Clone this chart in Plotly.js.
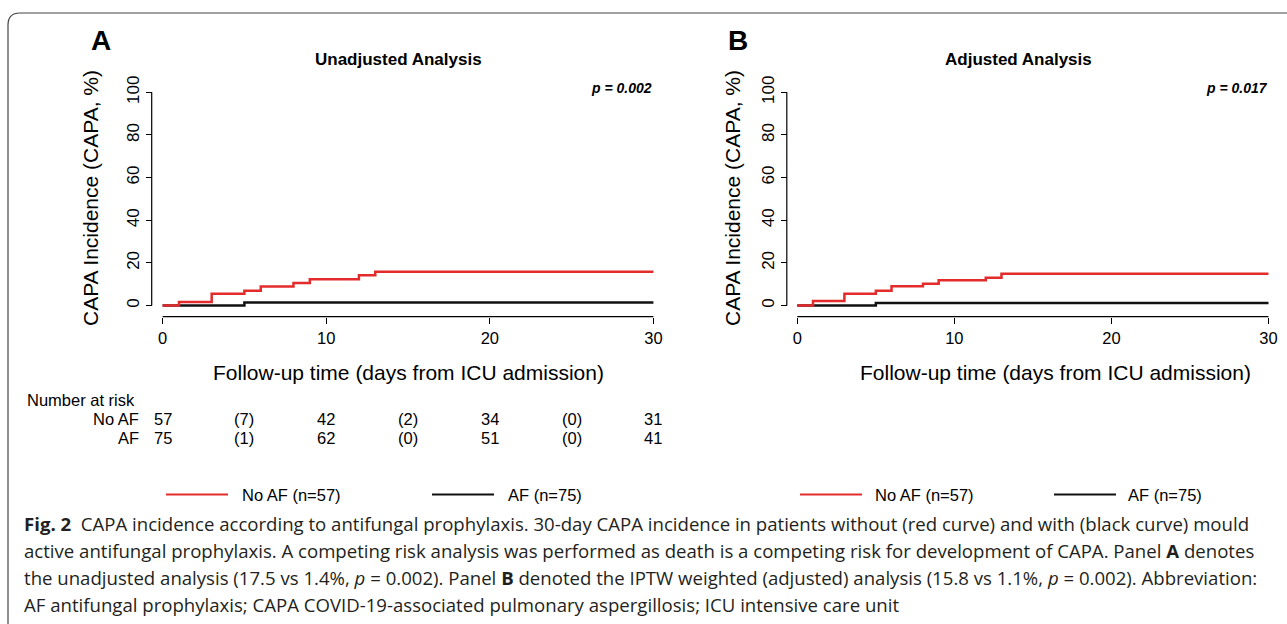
<!DOCTYPE html>
<html>
<head>
<meta charset="utf-8">
<script src="https://cdn.plot.ly/plotly-3.0.1.min.js"></script>
<style>html,body{margin:0;padding:0;background:#fff;}#chart{width:1287px;height:624px;}</style>
</head>
<body>
<div id="chart"></div>
<script>
// ---------- data ----------
const days_noaf = [0, 1, 3, 5, 6, 8, 9, 12, 13, 30];
const unadj_noaf = [0, 1.7, 5.6, 7.0, 8.9, 10.6, 12.4, 14.2, 15.9, 15.9];
const days_af = [0, 5, 30];
const unadj_af = [0, 1.4, 1.4];
const adj_noaf = [0, 2.2, 5.5, 7.0, 9.1, 10.3, 11.9, 13.1, 14.9, 14.9];
const adj_af = [0, 1.2, 1.2];

const risk_times = [0, 5, 10, 15, 20, 25, 30];
const risk_noaf = ['57', '(7)', '42', '(2)', '34', '(0)', '31'];
const risk_af = ['75', '(1)', '62', '(0)', '51', '(0)', '41'];

const xTicks = [0, 10, 20, 30];
const yTicks = [0, 20, 40, 60, 80, 100];

const panelTitles = ['Unadjusted Analysis', 'Adjusted Analysis'];
const panelLetters = ['A', 'B'];
const pValues = ['p = 0.002', 'p = 0.017'];
const seriesNames = ['No AF (n=57)', 'AF (n=75)'];
const yTitle = 'CAPA Incidence (CAPA, %)';
const xTitle = 'Follow-up time (days from ICU admission)';

const captionLines = [
  '<b>Fig. 2</b>  CAPA incidence according to antifungal prophylaxis. 30-day CAPA incidence in patients without (red curve) and with (black curve) mould',
  'active antifungal prophylaxis. A competing risk analysis was performed as death is a competing risk for development of CAPA. Panel <b>A</b> denotes',
  'the unadjusted analysis (17.5 vs 1.4%, <i>p</i> = 0.002). Panel <b>B</b> denoted the IPTW weighted (adjusted) analysis (15.8 vs 1.1%, <i>p</i> = 0.002). Abbreviation:',
  'AF antifungal prophylaxis; CAPA COVID-19-associated pulmonary aspergillosis; ICU intensive care unit'
];

// ---------- geometry helpers ----------
const W = 1287, H = 624;
const X = px => px / W;
const Y = py => 1 - py / H;
const RED = '#e32b2b', BLACK = '#111111';
const FONT = 'Liberation Sans, Arial, sans-serif';

function xDomain(d0, d30) { const s = (d30 - d0) / 30; return [X(d0 - 0.5 * s), X(d30 + 0.5 * s)]; }
const y0px = 305.6, y100px = 92.3;
const ys = (y0px - y100px) / 100;
const yDom = [Y(y0px + 2 * ys), Y(y100px - 2 * ys)];

const panels = [
  {d0: 162.6, d30: 653.4, yline: 151.7, xline: 316.7, xa: 'x', ya: 'y', noaf: unadj_noaf, af: unadj_af,
   titleX: 398, letterX: 101, ytitleX: 90, xtitleX: 408},
  {d0: 797.3, d30: 1268.5, yline: 786.8, xline: 316.7, xa: 'x2', ya: 'y2', noaf: adj_noaf, af: adj_af,
   titleX: 1018, letterX: 738, ytitleX: 732, xtitleX: 1055}
];

const data = [];
const shapes = [];
const annotations = [];
const layout = {
  width: W, height: H,
  margin: {l: 0, r: 0, t: 0, b: 0},
  paper_bgcolor: '#fff', plot_bgcolor: 'rgba(0,0,0,0)',
  showlegend: false,
  font: {family: FONT, color: '#000'}
};

panels.forEach((p, i) => {
  const xk = i === 0 ? 'xaxis' : 'xaxis2';
  const yk = i === 0 ? 'yaxis' : 'yaxis2';
  layout[xk] = {
    domain: xDomain(p.d0, p.d30), range: [-0.5, 30.5], anchor: 'free', position: Y(p.xline),
    showline: false, showgrid: false, zeroline: false,
    tickmode: 'array', tickvals: xTicks, ticktext: xTicks.map(String),
    ticks: 'outside', ticklen: 6, tickwidth: 1, tickcolor: '#000',
    tickfont: {family: FONT, size: 16.5, color: '#000'}, fixedrange: true
  };
  layout[yk] = {
    domain: yDom, range: [-2, 102], anchor: 'free', position: X(p.yline),
    showline: false, showgrid: false, zeroline: false,
    tickmode: 'array', tickvals: yTicks, ticktext: yTicks.map(String),
    ticks: 'outside', ticklen: 6, tickwidth: 1, tickcolor: '#000', tickangle: -90,
    tickfont: {family: FONT, size: 17, color: '#000'}, fixedrange: true
  };
  data.push({x: days_af, y: p.af, xaxis: p.xa, yaxis: p.ya, type: 'scatter', mode: 'lines',
    line: {shape: 'hv', color: BLACK, width: 2.5}, name: seriesNames[1]});
  data.push({x: days_noaf, y: p.noaf, xaxis: p.xa, yaxis: p.ya, type: 'scatter', mode: 'lines',
    line: {shape: 'hv', color: RED, width: 2.5}, name: seriesNames[0]});

  // axis lines (detached, R style)
  shapes.push({type: 'line', xref: p.xa, yref: 'paper', x0: 0, x1: 30, y0: Y(p.xline), y1: Y(p.xline),
    line: {color: '#000', width: 1.2}});
  shapes.push({type: 'line', xref: 'paper', yref: p.ya, x0: X(p.yline), x1: X(p.yline), y0: 0, y1: 100,
    line: {color: '#000', width: 1.2}});

  annotations.push({xref: 'paper', yref: 'paper', x: X(p.titleX), y: Y(59), text: '<b>' + panelTitles[i] + '</b>',
    showarrow: false, xanchor: 'center', yanchor: 'middle', font: {family: FONT, size: 17, color: '#000'}});
  annotations.push({xref: 'paper', yref: 'paper', x: X(p.letterX), y: Y(40), text: '<b>' + panelLetters[i] + '</b>',
    showarrow: false, xanchor: 'center', yanchor: 'middle', font: {family: FONT, size: 28, color: '#000'}});
  annotations.push({xref: 'paper', yref: 'paper', x: X(p.d30 + 1), y: Y(88), text: '<b><i>' + pValues[i] + '</i></b>',
    showarrow: false, xanchor: 'right', yanchor: 'middle', font: {family: FONT, size: 14, color: '#000'}});
  annotations.push({xref: 'paper', yref: 'paper', x: X(p.ytitleX), y: Y(198), text: yTitle, textangle: -90,
    showarrow: false, xanchor: 'center', yanchor: 'middle', font: {family: FONT, size: 21, color: '#000'}});
  annotations.push({xref: 'paper', yref: 'paper', x: X(p.xtitleX), y: Y(372), text: xTitle,
    showarrow: false, xanchor: 'center', yanchor: 'middle', font: {family: FONT, size: 21, color: '#000'}});
});

// ---------- number at risk table (panel A) ----------
annotations.push({xref: 'paper', yref: 'paper', x: X(25), y: Y(400), text: 'Number at risk', showarrow: false,
  xanchor: 'left', yanchor: 'middle', font: {family: FONT, size: 16.5, color: '#000'}});
annotations.push({xref: 'paper', yref: 'paper', x: X(141), y: Y(419), text: 'No AF', showarrow: false,
  xanchor: 'right', yanchor: 'middle', font: {family: FONT, size: 16.5, color: '#000'}});
annotations.push({xref: 'paper', yref: 'paper', x: X(141), y: Y(438), text: 'AF', showarrow: false,
  xanchor: 'right', yanchor: 'middle', font: {family: FONT, size: 16.5, color: '#000'}});
risk_times.forEach((t, j) => {
  annotations.push({xref: 'x', yref: 'paper', x: t, y: Y(419), text: risk_noaf[j], showarrow: false,
    xanchor: 'center', yanchor: 'middle', font: {family: FONT, size: 16.5, color: '#000'}});
  annotations.push({xref: 'x', yref: 'paper', x: t, y: Y(438), text: risk_af[j], showarrow: false,
    xanchor: 'center', yanchor: 'middle', font: {family: FONT, size: 16.5, color: '#000'}});
});

// ---------- legends ----------
const legendItems = [
  {x0: 166, x1: 228, tx: 240, color: RED, name: seriesNames[0]},
  {x0: 432, x1: 494, tx: 506, color: BLACK, name: seriesNames[1]},
  {x0: 800, x1: 862, tx: 873, color: RED, name: seriesNames[0]},
  {x0: 1054, x1: 1116, tx: 1126, color: BLACK, name: seriesNames[1]}
];
legendItems.forEach(l => {
  shapes.push({type: 'line', xref: 'paper', yref: 'paper', x0: X(l.x0), x1: X(l.x1), y0: Y(494.5), y1: Y(494.5),
    line: {color: l.color, width: 2}});
  annotations.push({xref: 'paper', yref: 'paper', x: X(l.tx), y: Y(494.5), text: l.name, showarrow: false,
    xanchor: 'left', yanchor: 'middle', font: {family: FONT, size: 16.5, color: '#000'}});
});

// ---------- caption ----------
const capY = [523, 550, 577, 604];
captionLines.forEach((t, k) => {
  annotations.push({xref: 'paper', yref: 'paper', x: X(22), y: Y(capY[k]), text: t, showarrow: false,
    xanchor: 'left', yanchor: 'middle', font: {family: 'Open Sans, Noto Sans, sans-serif', size: 18.6, color: '#231f20'}});
});

// ---------- frame ----------
const r = 12;
shapes.push({type: 'path', xref: 'paper', yref: 'paper', layer: 'below',
  path: `M ${X(8)} ${Y(630)} L ${X(8)} ${Y(13 + r)} Q ${X(8)} ${Y(13)} ${X(8 + r)} ${Y(13)} L ${X(1295)} ${Y(13)}`,
  line: {color: '#444', width: 1.2}});

layout.shapes = shapes;
layout.annotations = annotations;

Plotly.newPlot('chart', data, layout, {displayModeBar: false, staticPlot: true});
</script>
</body>
</html>
